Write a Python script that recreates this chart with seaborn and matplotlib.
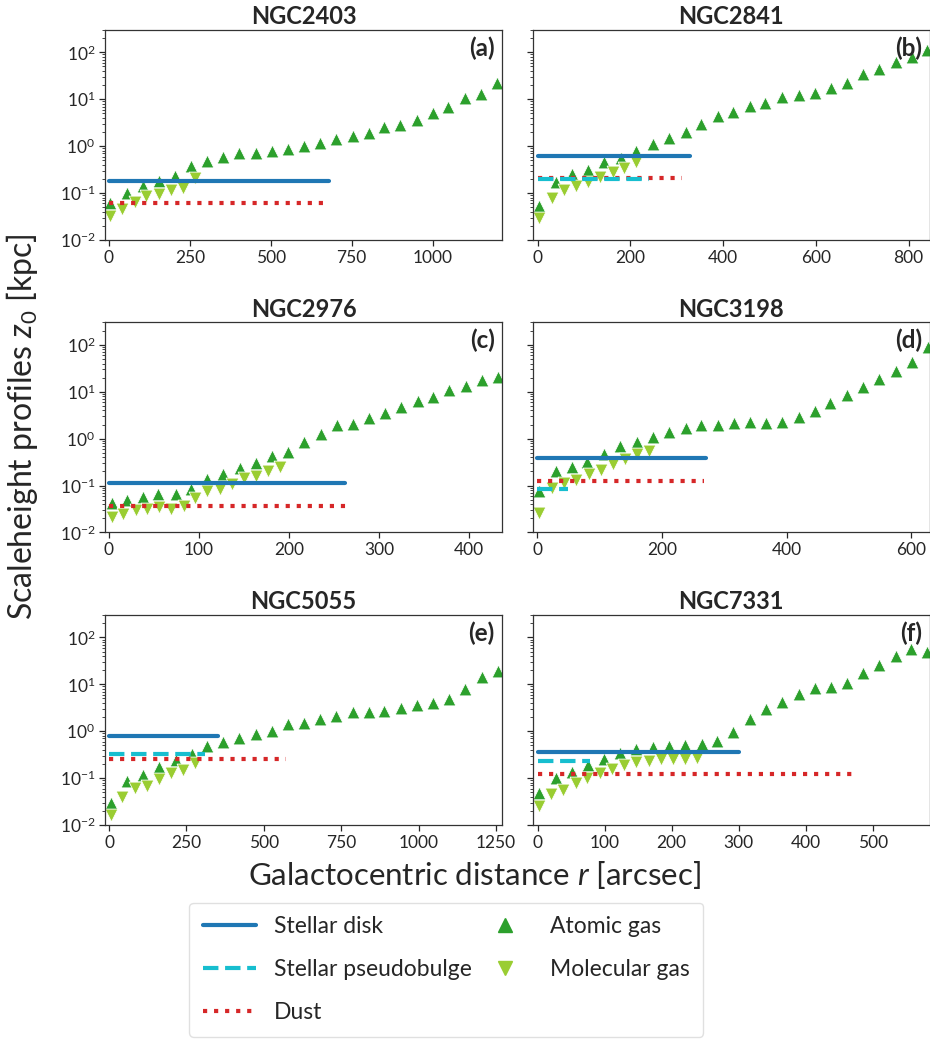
import matplotlib
matplotlib.use("Agg")
import matplotlib.pyplot as plt
import seaborn as sns
from matplotlib.lines import Line2D
from matplotlib.ticker import MultipleLocator, LogLocator, NullFormatter

# ---------------------------------------------------------------------------
# Scale-height profiles z0 [kpc] versus galactocentric radius r [arcsec]
# ---------------------------------------------------------------------------
GALAXIES = ["NGC2403", "NGC2841", "NGC2976", "NGC3198", "NGC5055", "NGC7331"]
PANEL_TAGS = ["(a)", "(b)", "(c)", "(d)", "(e)", "(f)"]

# Atomic gas (HI)
R_HI_2403 = [5, 56, 106, 154, 205, 255, 304, 352, 403, 453, 503, 554, 603, 653, 702,
             753, 803, 850, 900, 952, 1000, 1049, 1101, 1151, 1200]
Z_HI_2403 = [0.061, 0.10, 0.138, 0.18, 0.23, 0.38, 0.49, 0.60, 0.70, 0.73, 0.80, 0.86,
             1.0, 1.14, 1.41, 1.66, 1.95, 2.5, 2.8, 3.6, 5.0, 6.7, 10.4, 13.0, 22.7]
R_HI_2841 = [4, 39, 74, 108, 144, 180, 213, 248, 283, 319, 352, 388, 421, 458, 491,
             527, 563, 599, 633, 667, 702, 737, 772, 807, 839]
Z_HI_2841 = [0.053, 0.168, 0.253, 0.31, 0.45, 0.57, 0.80, 1.10, 1.48, 1.96, 3.0, 4.3,
             5.4, 7.2, 8.5, 10.9, 12.4, 13.9, 17.0, 22.7, 34.0, 45.0, 63.0, 78.0, 113.0]
R_HI_2976 = [3, 20, 38, 55, 74, 91, 109, 127, 146, 163, 181, 199, 217, 235, 253,
             271, 289, 306, 324, 343, 360, 378, 396, 414, 432]
Z_HI_2976 = [0.043, 0.050, 0.057, 0.065, 0.065, 0.085, 0.135, 0.178, 0.235, 0.30, 0.42,
             0.52, 0.83, 1.27, 1.91, 2.07, 2.78, 3.6, 4.7, 6.3, 7.9, 10.7, 13.0, 18.0, 21.0]
R_HI_3198 = [3, 30, 56, 80, 107, 133, 159, 185, 211, 238, 263, 289, 315, 341, 367,
             393, 419, 445, 470, 497, 523, 548, 575, 601, 627]
Z_HI_3198 = [0.075, 0.20, 0.247, 0.316, 0.475, 0.71, 0.84, 1.08, 1.38, 1.70, 1.91, 2.0,
             2.14, 2.25, 2.2, 2.25, 2.87, 3.8, 5.7, 8.7, 12.9, 18.8, 28.4, 42.7, 92.0]
R_HI_5055 = [5, 59, 111, 161, 215, 267, 318, 369, 421, 474, 525, 579, 630, 682, 734,
             788, 839, 889, 942, 995, 1046, 1097, 1151, 1204, 1255]
Z_HI_5055 = [0.030, 0.088, 0.116, 0.175, 0.243, 0.32, 0.49, 0.58, 0.73, 0.855, 1.0, 1.4,
             1.51, 1.82, 2.14, 2.56, 2.6, 2.69, 3.17, 3.6, 3.9, 4.8, 7.8, 14.5, 19.5]
R_HI_7331 = [2.5, 27, 51, 75, 99, 123, 147, 172, 196, 220, 245, 268, 292, 316, 340,
             364, 389, 413, 437, 461, 485, 509, 534, 557, 580]
Z_HI_7331 = [0.049, 0.099, 0.133, 0.19, 0.255, 0.35, 0.417, 0.467, 0.49, 0.51, 0.53,
             0.616, 0.977, 1.82, 2.92, 4.26, 6.1, 8.2, 8.9, 10.8, 17.1, 25.7, 40.7, 55.5, 49.5]

# Molecular gas (H2)
R_H2_2403 = [5, 41, 80, 116, 154, 193, 229, 265]
Z_H2_2403 = [0.033, 0.045, 0.063, 0.085, 0.095, 0.117, 0.13, 0.21]
R_H2_2841 = [4, 30, 56, 82, 108, 134, 162, 187, 212]
Z_H2_2841 = [0.029, 0.077, 0.115, 0.138, 0.174, 0.222, 0.288, 0.35, 0.45]
R_H2_2976 = [3, 16, 30, 42, 56, 69, 83, 96, 109, 123, 137, 150, 163, 177, 190]
Z_H2_2976 = [0.021, 0.025, 0.0295, 0.032, 0.0346, 0.032, 0.0376, 0.055, 0.075, 0.085,
             0.109, 0.146, 0.164, 0.20, 0.255]
R_H2_3198 = [3, 23, 43, 62, 82, 102, 121, 140, 160, 179]
Z_H2_3198 = [0.0257, 0.0895, 0.113, 0.133, 0.178, 0.21, 0.29, 0.37, 0.475, 0.54]
R_H2_5055 = [5, 43, 84, 122, 161, 200, 240, 277]
Z_H2_5055 = [0.0163, 0.040, 0.0625, 0.069, 0.096, 0.126, 0.149, 0.213]
R_H2_7331 = [2.5, 20, 38, 57, 74, 93, 111, 129, 147, 166, 184, 202, 220, 237]
Z_H2_7331 = [0.0258, 0.047, 0.0557, 0.0773, 0.099, 0.126, 0.156, 0.19, 0.217, 0.235,
             0.25, 0.253, 0.253, 0.264]

# Constant scale heights: value and outer radius of validity (None = not fitted)
DISK_Z = [0.18, 0.62, 0.113, 0.38, 0.79, 0.366]
DISK_RMAX = [680, 328, 262, 271, 352, 300]
BULGE_Z = [None, 0.198, None, 0.085, 0.326, 0.235]
BULGE_RMAX = [None, 240, None, 49, 309, 78]
DUST_Z = [0.061, 0.207, 0.036, 0.124, 0.25, 0.122]
DUST_RMAX = [680, 312, 265, 267, 573, 474]

# Radial axis ranges and tick steps per panel
X_RANGES = [(-12, 1216), (-11, 846), (-4.4, 437), (-8, 630), (-13, 1271), (-7.5, 585)]
X_STEPS = [250, 200, 100, 200, 250, 100]

R_HI = [R_HI_2403, R_HI_2841, R_HI_2976, R_HI_3198, R_HI_5055, R_HI_7331]
Z_HI = [Z_HI_2403, Z_HI_2841, Z_HI_2976, Z_HI_3198, Z_HI_5055, Z_HI_7331]
R_H2 = [R_H2_2403, R_H2_2841, R_H2_2976, R_H2_3198, R_H2_5055, R_H2_7331]
Z_H2 = [Z_H2_2403, Z_H2_2841, Z_H2_2976, Z_H2_3198, Z_H2_5055, Z_H2_7331]

C_DISK = "#1f77b4"
C_BULGE = "#17becf"
C_DUST = "#d62728"
C_ATOM = "#2ca02c"
C_MOL = "yellowgreen"

sns.set_theme(style="ticks")
plt.rcParams["font.family"] = ["Lato", "DejaVu Sans"]
plt.rcParams["mathtext.fontset"] = "custom"
plt.rcParams["mathtext.rm"] = "Lato"
plt.rcParams["mathtext.it"] = "Lato:italic"
plt.rcParams["mathtext.bf"] = "Lato:bold"

fig, axes = plt.subplots(3, 2, figsize=(9.3, 10.4), dpi=100, sharey=True)
fig.subplots_adjust(left=0.1129, right=1.0, bottom=0.2067, top=0.9712,
                    wspace=0.0755, hspace=0.393)

for i, ax in enumerate(axes.flat):
    ax.set_yscale("log")

    sns.scatterplot(x=R_HI[i], y=Z_HI[i], ax=ax, marker="^", color=C_ATOM,
                    s=85, edgecolor="white", linewidth=0.6, zorder=1)
    sns.scatterplot(x=R_H2[i], y=Z_H2[i], ax=ax, marker="v", color=C_MOL,
                    s=85, edgecolor="white", linewidth=0.6, zorder=1)

    ax.plot([0, DISK_RMAX[i]], [DISK_Z[i], DISK_Z[i]], color=C_DISK, lw=3, ls="-")
    ax.plot([0, DUST_RMAX[i]], [DUST_Z[i], DUST_Z[i]], color=C_DUST, lw=3, ls=":")
    if BULGE_Z[i] is not None:
        ax.plot([0, BULGE_RMAX[i]], [BULGE_Z[i], BULGE_Z[i]], color=C_BULGE, lw=3, ls="--")

    ax.set_xlim(*X_RANGES[i])
    ax.set_ylim(1e-2, 3e2)
    ax.xaxis.set_major_locator(MultipleLocator(X_STEPS[i]))
    ax.yaxis.set_major_locator(LogLocator(base=10, numticks=10))
    ax.yaxis.set_minor_locator(LogLocator(base=10, subs=range(2, 10), numticks=20))
    ax.yaxis.set_minor_formatter(NullFormatter())

    ax.tick_params(axis="both", which="major", labelsize=12.5, length=4, width=0.9,
                   direction="out", pad=3)
    ax.tick_params(axis="both", which="minor", length=2, width=0.6)
    for sp in ax.spines.values():
        sp.set_linewidth(0.9)
        sp.set_color("#333333")

    ax.set_xlabel("")
    ax.set_ylabel("")
    ax.set_title(GALAXIES[i], fontsize=17, fontweight="bold", pad=4)
    ax.text(0.98, 0.915, PANEL_TAGS[i], transform=ax.transAxes, ha="right",
            va="center", fontsize=17.5, fontweight="bold", zorder=5)

fig.text(0.51, 0.159, r"Galactocentric distance $r$ [arcsec]", ha="center",
         va="center", fontsize=22.5)
fig.text(0.024, 0.59, r"Scaleheight profiles $z_0$ [kpc]", ha="center",
         va="center", rotation=90, fontsize=23)

handles = [
    Line2D([], [], color=C_DISK, lw=3, ls="-", label="Stellar disk"),
    Line2D([], [], color=C_BULGE, lw=3, ls="--", label="Stellar pseudobulge"),
    Line2D([], [], color=C_DUST, lw=3, ls=":", label="Dust"),
    Line2D([], [], color=C_ATOM, ls="", marker="^", markersize=10, label="Atomic gas"),
    Line2D([], [], color=C_MOL, ls="", marker="v", markersize=10, label="Molecular gas"),
]
fig.legend(handles=handles, loc="upper center", bbox_to_anchor=(0.48, 0.132),
           borderaxespad=0, ncol=2, fontsize=16.5, handlelength=2.3,
           handletextpad=0.8, columnspacing=0.3, labelspacing=0.95, borderpad=0.6,
           frameon=True, fancybox=True, edgecolor="0.85")

fig.savefig("out.png", dpi=100)
